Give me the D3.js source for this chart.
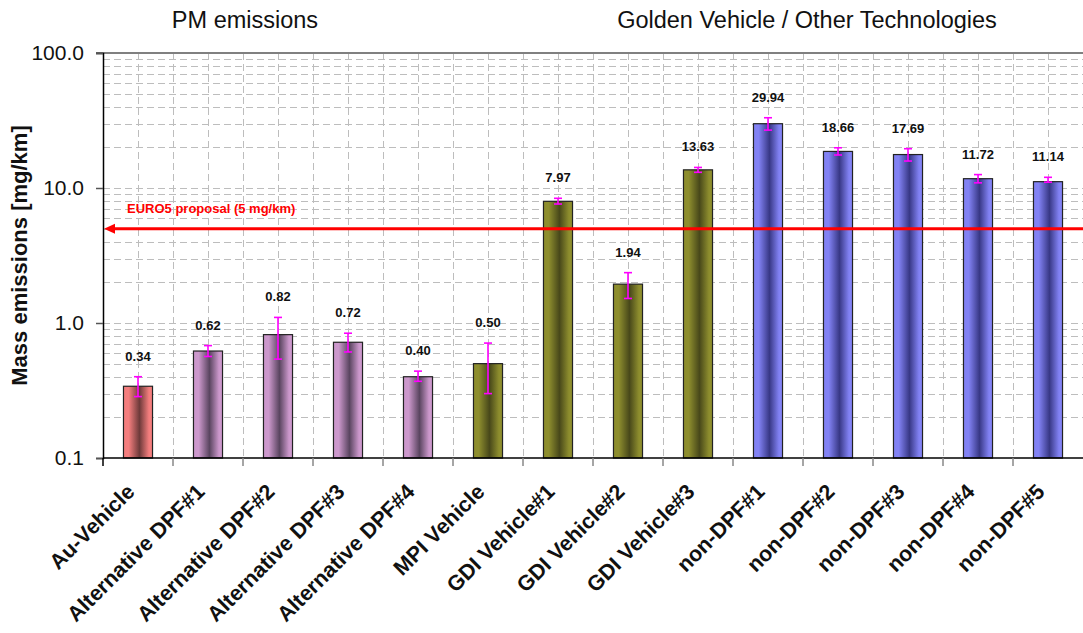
<!DOCTYPE html>
<html>
<head>
<meta charset="utf-8">
<script src="https://cdn.jsdelivr.net/npm/d3@7"></script>
<style>
  body { margin: 0; background: #fff; }
  svg text { font-family: "Liberation Sans", Arial, sans-serif; }
</style>
</head>
<body>
<div id="chart"></div>
<script>
// chart data
var categories = ['Au-Vehicle', 'Alternative DPF#1', 'Alternative DPF#2', 'Alternative DPF#3',
  'Alternative DPF#4', 'MPI Vehicle', 'GDI Vehicle#1', 'GDI Vehicle#2', 'GDI Vehicle#3',
  'non-DPF#1', 'non-DPF#2', 'non-DPF#3', 'non-DPF#4', 'non-DPF#5'];
var values = [0.34, 0.62, 0.82, 0.72, 0.40, 0.50, 7.97, 1.94, 13.63, 29.94, 18.66, 17.69, 11.72, 11.14];
var errHigh = [0.06, 0.06, 0.28, 0.12, 0.04, 0.21, 0.42, 0.42, 0.57, 3.2, 1.2, 1.85, 0.85, 0.86];
var errLow = [0.055, 0.055, 0.28, 0.11, 0.03, 0.2, 0.36, 0.42, 0.56, 3.1, 1.1, 1.85, 0.8, 0.1];
var groups = ['au', 'dpf', 'dpf', 'dpf', 'dpf', 'gdi', 'gdi', 'gdi', 'gdi',
  'non', 'non', 'non', 'non', 'non'];
var yTicks = [0.1, 1, 10, 100];
var limitValue = 5;
var limitLabel = 'EURO5 proposal (5 mg/km)';
var titles = ['PM emissions', 'Golden Vehicle / Other Technologies'];

var width = 1083,
    height = 633,
    margin = {top: 53, right: 0, bottom: 175, left: 103};

var palette = {
  au:  {light: '#f47e7e', dark: '#6e3a3a'},
  dpf: {light: '#cc98cc', dark: '#5a4560'},
  gdi: {light: '#8e8e2e', dark: '#48481a'},
  non: {light: '#8282f4', dark: '#383886'}
};

var svg = d3.select('#chart')
  .append('svg')
  .attr('width', width)
  .attr('height', height);

var defs = svg.append('defs');
Object.keys(palette).forEach(function(k) {
  var g = defs.append('linearGradient')
    .attr('id', 'grad-' + k)
    .attr('x1', 0).attr('x2', 1).attr('y1', 0).attr('y2', 0);
  [[0, 'light'], [0.18, 'light'], [0.55, 'dark'], [0.88, 'light'], [1, 'light']].forEach(function(s) {
    g.append('stop').attr('offset', s[0]).attr('stop-color', palette[k][s[1]]);
  });
});

var x = d3.scaleBand()
  .domain(categories)
  .range([margin.left, width - margin.right])
  .padding(0);

var y = d3.scaleLog()
  .domain([0.1, 100])
  .range([height - margin.bottom, margin.top]);

var barWidth = x.bandwidth() * 0.415;
var top0 = margin.top, bottom0 = height - margin.bottom;

// gridlines
var grid = svg.append('g')
  .attr('stroke', '#bdbdbd')
  .attr('stroke-width', 1)
  .attr('stroke-dasharray', '7,4');

grid.selectAll('line.h')
  .data(y.ticks().filter(function(d) { return d > 0.1 && d < 100; }))
  .enter()
  .append('line')
  .attr('x1', margin.left)
  .attr('x2', width - margin.right)
  .attr('y1', function(d) { return Math.round(y(d)) + 0.5; })
  .attr('y2', function(d) { return Math.round(y(d)) + 0.5; });

var vx = [];
categories.forEach(function(c, i) {
  vx.push(x(c) + x.bandwidth() / 2);
  if (i < categories.length - 1) vx.push(x(c) + x.bandwidth());
});
grid.selectAll('line.v')
  .data(vx)
  .enter()
  .append('line')
  .attr('x1', function(d) { return Math.round(d) + 0.5; })
  .attr('x2', function(d) { return Math.round(d) + 0.5; })
  .attr('y1', top0)
  .attr('y2', bottom0);

// top border
svg.append('line')
  .attr('x1', margin.left - 7).attr('x2', width)
  .attr('y1', top0).attr('y2', top0)
  .attr('stroke', '#808080')
  .attr('stroke-width', 2);

// bars
svg.append('g')
  .selectAll('rect')
  .data(values)
  .enter()
  .append('rect')
  .attr('x', function(d, i) { return x(categories[i]) + (x.bandwidth() - barWidth) / 2; })
  .attr('y', function(d) { return y(d); })
  .attr('width', barWidth)
  .attr('height', function(d) { return bottom0 - y(d); })
  .attr('fill', function(d, i) { return 'url(#grad-' + groups[i] + ')'; })
  .attr('stroke', '#222')
  .attr('stroke-width', 1.2);

// limit line
svg.append('line')
  .attr('x1', margin.left + 8)
  .attr('x2', width)
  .attr('y1', y(limitValue))
  .attr('y2', y(limitValue))
  .attr('stroke', '#ff0000')
  .attr('stroke-width', 3);
svg.append('path')
  .attr('d', 'M' + (margin.left + 1) + ',' + y(limitValue) + 'l11,-5l0,10z')
  .attr('fill', '#ff0000');
svg.append('text')
  .attr('x', margin.left + 24)
  .attr('y', y(limitValue) - 16)
  .attr('fill', '#ff0000')
  .attr('font-size', 13)
  .attr('font-weight', 'bold')
  .text(limitLabel);

// error bars
var eb = svg.append('g')
  .attr('stroke', '#ff00ff')
  .attr('stroke-width', 1.6);
values.forEach(function(v, i) {
  var cx = x(categories[i]) + x.bandwidth() / 2;
  var yt = y(v + errHigh[i]), yb = y(v - errLow[i]);
  eb.append('line').attr('x1', cx).attr('x2', cx).attr('y1', yt).attr('y2', yb);
  eb.append('line').attr('x1', cx - 4).attr('x2', cx + 4).attr('y1', yt).attr('y2', yt);
  eb.append('line').attr('x1', cx - 4).attr('x2', cx + 4).attr('y1', yb).attr('y2', yb);
});

// value labels
svg.append('g')
  .selectAll('text')
  .data(values)
  .enter()
  .append('text')
  .attr('x', function(d, i) { return x(categories[i]) + x.bandwidth() / 2; })
  .attr('y', function(d, i) { return y(d + errHigh[i]) - 16; })
  .attr('text-anchor', 'middle')
  .attr('font-size', 13)
  .attr('font-weight', 'bold')
  .attr('fill', '#111')
  .text(function(d) { return d.toFixed(2); });

// y axis
var yAxis = svg.append('g')
  .attr('transform', 'translate(' + margin.left + ',0)')
  .call(d3.axisLeft(y).tickValues(yTicks).tickFormat(d3.format('.1f')).tickSize(7).tickPadding(12));
yAxis.select('.domain').attr('stroke', '#000').attr('stroke-width', 1.5);
yAxis.selectAll('.tick line').attr('stroke', '#555').attr('stroke-width', 1.5);
yAxis.selectAll('.tick text')
  .attr('font-size', 21)
  .attr('font-family', '"Liberation Sans", Arial, sans-serif')
  .attr('fill', '#111');

// x axis
var xAxis = svg.append('g')
  .attr('transform', 'translate(0,' + bottom0 + ')');
xAxis.append('line')
  .attr('x1', margin.left).attr('x2', width)
  .attr('stroke', '#000').attr('stroke-width', 1.5);
xAxis.selectAll('line.tick')
  .data(categories)
  .enter()
  .append('line')
  .attr('x1', function(d) { return x(d); })
  .attr('x2', function(d) { return x(d); })
  .attr('y1', 0).attr('y2', 8)
  .attr('stroke', function(d, i) { return i === 0 ? '#000' : '#888'; })
  .attr('stroke-width', 1.5);
xAxis.selectAll('text')
  .data(categories)
  .enter()
  .append('text')
  .attr('transform', function(d) {
    return 'translate(' + (x(d) + x.bandwidth() / 2 - 2) + ',35) rotate(-45)';
  })
  .attr('text-anchor', 'end')
  .attr('font-size', 21.5)
  .attr('font-weight', 'bold')
  .attr('fill', '#111')
  .text(function(d) { return d; });

// axis title
svg.append('text')
  .attr('transform', 'translate(27,' + ((top0 + bottom0) / 2) + ') rotate(-90)')
  .attr('text-anchor', 'middle')
  .attr('font-size', 22)
  .attr('font-weight', 'bold')
  .attr('fill', '#111')
  .text('Mass emissions [mg/km]');

// section titles
svg.selectAll('text.title')
  .data(titles)
  .enter()
  .append('text')
  .attr('class', 'title')
  .attr('x', function(d, i) { return i === 0 ? 245 : 807; })
  .attr('y', 28)
  .attr('text-anchor', 'middle')
  .attr('font-size', 23.5)
  .attr('fill', '#111')
  .text(function(d) { return d; });
</script>
</body>
</html>
